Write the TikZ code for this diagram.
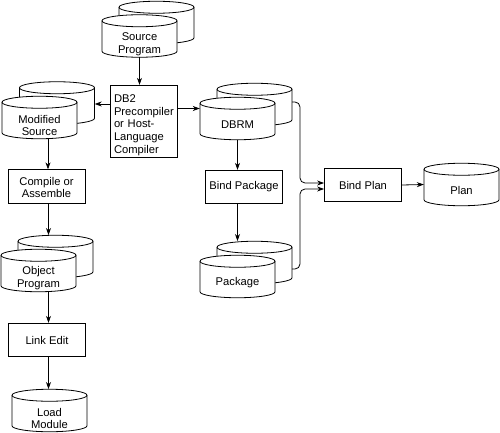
\documentclass[tikz,border=0pt]{standalone}
\usepackage{fontspec}
\setmainfont{Liberation Sans}
\usetikzlibrary{arrows.meta}
\tikzset{
  boxstep/.style={draw, line width=0.8pt, fill=white, inner sep=2pt, align=center, minimum width=77pt, minimum height=33.5pt, font=\fontsize{11.2}{12.8}\selectfont},
  diskline/.style={draw, line width=0.8pt, fill=white},
  diskbox/.style={inner sep=0pt, minimum width=75pt, minimum height=42.5pt},
  disklabel/.style={inner sep=0pt, align=center, font=\fontsize{11.2}{12.8}\selectfont},
  flow/.style={line width=0.8pt, -{Stealth[length=7pt, width=5pt]}}
}
% taller first line, pushes a block of lines down
\newcommand{\lift}[1]{\rule{0pt}{#1pt}}
% name, x, y, text
\newcommand{\disk}[4]{
  \path[diskline] (#2-37.5,#3-15.25) arc[start angle=180, end angle=0, x radius=37.5pt, y radius=6pt]
    -- (#2+37.5,#3+15.25) arc[start angle=0, end angle=-180, x radius=37.5pt, y radius=6pt] -- cycle;
  \draw[line width=0.8pt] (#2-37.5,#3-15.25) arc[start angle=180, end angle=360, x radius=37.5pt, y radius=6pt];
  \node[diskbox] (#1) at (#2,#3) {};
  \node[disklabel] (#1label) at (#2,#3+6) {#4};
}
\begin{document}
\begin{tikzpicture}[x=1pt, y=-1pt]
  \useasboundingbox (0,0) rectangle (500,433);
  % Disks, back ones first
  \disk{sourceback}{156.5}{22.5}{}
  \disk{source}{139.5}{36}{\lift{12}Source\\Program}
  \disk{modifiedback}{57}{103}{}
  \disk{modified}{39.5}{117.5}{\lift{12}Modified\\Source}
  \disk{objectback}{55.5}{256.5}{}
  \disk{object}{38.5}{270.5}{\lift{12}Object\\Program}
  \disk{load}{49.5}{410.5}{\lift{12}Load\\Module}
  \disk{dbrmback}{254.5}{104.5}{}
  \disk{dbrm}{237.5}{118.5}{DBRM}
  \disk{packageback}{254.5}{262.5}{}
  \disk{package}{237.5}{276.5}{Package}
  \disk{plan}{461.5}{184.5}{Plan}
  % Process boxes
  \node[boxstep, align=left, minimum width=67pt, minimum height=71pt, text width=59pt] (precompiler) at (143.5,121.5) {\lift{15}DB2\\Precompiler\\or Host-\\Language\\Compiler};
  \node[boxstep] (compile) at (46.5,186.5) {\lift{10}Compile or\\Assemble};
  \node[boxstep] (link) at (47,340) {Link Edit};
  \node[boxstep] (bindpackage) at (244,187) {Bind Package};
  \node[boxstep] (bindplan) at (363,185) {Bind Plan};
  % Connectors
  \draw[flow] (source.south) -- (source.south |- precompiler.north);
  \draw[flow] ([yshift=17.5pt]precompiler.west) -- ([yshift=-1pt]modifiedback.east);
  \draw[flow] ([yshift=13pt]precompiler.east) -- ([yshift=10pt]dbrm.west);
  \draw[flow] (modified.south -| 48,0) -- (compile.north -| 48,0);
  \draw[flow] (compile.south -| 48.5,0) -- (objectback.north -| 48.5,0);
  \draw[flow] (object.south -| 48.5,0) -- (link.north -| 48.5,0);
  \draw[flow] (link.south -| 48.5,0) -- (load.north -| 48.5,0);
  \draw[flow] (dbrm.south) -- (bindpackage.north -| dbrm.south);
  \draw[flow] (bindpackage.south -| dbrm.south) -- (packageback.north -| dbrm.south);
  \draw[flow] (bindplan.east) -- (plan.west);
  \draw[flow, rounded corners=5pt] ([yshift=2.5pt]dbrmback.east) -- (300,102) -- (300,183) -- ([yshift=2pt]bindplan.west);
  \draw[flow, rounded corners=5pt] ([yshift=-6.5pt]packageback.east) -- (300,269) -- (300,189) -- ([yshift=-4pt]bindplan.west);
\end{tikzpicture}
\end{document}
